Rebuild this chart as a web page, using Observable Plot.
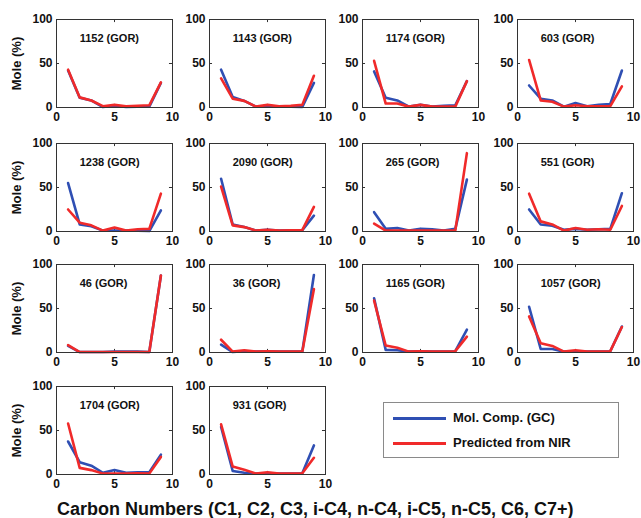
<!DOCTYPE html>
<html>
<head>
<meta charset="utf-8">
<script src="https://cdn.jsdelivr.net/npm/d3@7"></script>
<script src="https://cdn.jsdelivr.net/npm/@observablehq/plot@0.6"></script>
<style>
  html, body { margin: 0; padding: 0; background: #fff; }
  #chart { position: relative; width: 641px; height: 518px; background: #fff; overflow: hidden;
    font-family: "Liberation Sans", Arial, sans-serif; font-weight: bold; color: #111; }
  #chart .panel { position: absolute; }
  #legend { position: absolute; left: 383px; top: 402px; width: 234px; height: 54px;
    border: 1px solid #8a8a8a; background: #fff; }
  #legend .row { position: absolute; left: 9px; height: 16px; display: flex; align-items: center; }
  #legend .sw { width: 53px; height: 3px; margin-right: 7px; }
  #legend .lab { font-size: 13px; line-height: 16px; }
  #xtitle { position: absolute; left: 57px; top: 500px; font-size: 18px; line-height: 18px; white-space: nowrap; }
</style>
</head>
<body>
<div id="chart"></div>
<script>
// ---- data ----
const carbon = [1, 2, 3, 4, 5, 6, 7, 8, 9];
const xTicks = [0, 5, 10];
const yTicks = [0, 50, 100];
const samples = ["1152", "1143", "1174", "603", "1238", "2090", "265", "551", "46", "36", "1165", "1057", "1704", "931"];
const seriesNames = ["Mol. Comp. (GC)", "Predicted from NIR"];

const gc_1152 = [42, 11, 8, 0.5, 2, 0.5, 1, 1, 28];
const nir_1152 = [43, 11.5, 8, 1.5, 3, 1.5, 2, 2.5, 28.5];
const gc_1143 = [43, 12, 7.5, 1, 1, 1, 1, 0.5, 28];
const nir_1143 = [33, 10, 7.5, 1, 3, 1.5, 2, 3, 36];
const gc_1174 = [41, 11, 8, 1, 3, 1, 2, 2.5, 30];
const nir_1174 = [53, 4.5, 4.5, 1, 3, 1, 1, 1, 30];
const gc_603 = [25, 10, 8, 1, 5, 1.5, 3, 4, 42];
const nir_603 = [54, 8, 6.5, 1, 2.5, 1.5, 1.5, 1.5, 24];
const gc_1238 = [55, 8, 6, 1, 1, 1, 1, 0.5, 24];
const nir_1238 = [25, 10, 7, 1, 4.5, 1, 2.5, 3, 43];
const gc_2090 = [60, 8, 5, 1, 2, 1, 1.5, 1.5, 18];
const nir_2090 = [51, 7, 5, 1, 2, 1, 1.5, 1.5, 28];
const gc_265 = [22, 3, 4, 1, 3, 2.5, 1, 3, 59];
const nir_265 = [9, 1, 1, 1, 1, 1, 1, 1, 89];
const gc_551 = [25, 8, 6.5, 2, 3, 2, 2.5, 3, 43.5];
const nir_551 = [43, 11.5, 8, 1, 4, 2, 2.5, 2, 29];
const gc_46 = [7.5, 0.5, 0.5, 0.5, 1, 1, 1, 0.5, 87.5];
const nir_46 = [8.5, 0.5, 0.5, 0.5, 0.5, 0.5, 0.5, 0.5, 87.5];
const gc_36 = [9, 0.5, 1.5, 1, 1.5, 1, 1, 1, 88];
const nir_36 = [14.5, 1, 2.5, 1, 1.5, 1, 1, 1, 72];
const gc_1165 = [61.5, 3, 2.5, 1, 1.5, 1, 1, 1.5, 26];
const nir_1165 = [59, 8, 5.5, 1, 1.5, 1, 1, 1.5, 18];
const gc_1057 = [52, 4, 4, 1, 1, 1, 1, 1.5, 29.5];
const nir_1057 = [41, 10.5, 7.5, 1, 2.5, 1, 1, 1.5, 29];
const gc_1704 = [37.5, 14, 10, 2, 5, 2, 2.5, 2.5, 22.5];
const nir_1704 = [58, 7.5, 5, 1, 1, 1, 1.5, 1, 20];
const gc_931 = [54, 4, 2, 1, 1, 1, 1, 1.5, 33];
const nir_931 = [57, 9, 5.5, 1, 2.5, 1, 1, 1.5, 19];

const gcBySample = {"1152": gc_1152, "1143": gc_1143, "1174": gc_1174, "603": gc_603, "1238": gc_1238, "2090": gc_2090,
  "265": gc_265, "551": gc_551, "46": gc_46, "36": gc_36, "1165": gc_1165, "1057": gc_1057, "1704": gc_1704, "931": gc_931};
const nirBySample = {"1152": nir_1152, "1143": nir_1143, "1174": nir_1174, "603": nir_603, "1238": nir_1238, "2090": nir_2090,
  "265": nir_265, "551": nir_551, "46": nir_46, "36": nir_36, "1165": nir_1165, "1057": nir_1057, "1704": nir_1704, "931": nir_931};

// ---- layout ----
const BLUE = "#2f4fb3";
const RED = "#f02a2a";
const colLefts = [56, 208.5, 362, 517];
const rowTops = [19, 143, 264, 386];
const fw = 116, fh = 88;
const mL = 50, mR = 8, mT = 6, mB = 24;
const font = "'Liberation Sans', Arial, sans-serif";

const chart = document.getElementById("chart");

samples.forEach((s, i) => {
  const col = i % 4, row = Math.floor(i / 4);
  const gcRows = carbon.map((c, k) => ({x: c, y: gcBySample[s][k]}));
  const nirRows = carbon.map((c, k) => ({x: c, y: nirBySample[s][k]}));
  const p = Plot.plot({
    width: mL + fw + mR,
    height: mT + fh + mB,
    marginLeft: mL, marginRight: mR, marginTop: mT, marginBottom: mB,
    style: {fontFamily: font, fontWeight: "bold", fontSize: "12px", color: "#111", background: "transparent", overflow: "visible"},
    x: {domain: [0, 10]},
    y: {domain: [0, 100]},
    marks: [
      Plot.axisX(xTicks, {tickSize: 0, tickPadding: 5, label: null, fontSize: 12}),
      Plot.axisY(yTicks, {tickSize: 0, tickPadding: 4, fontSize: 12,
        label: col === 0 ? "Mole (%)" : null, labelAnchor: "center", labelOffset: 45, labelArrow: "none"}),
      Plot.ruleX(xTicks, {x: d => d, y1: 0, y2: 3.5, stroke: "#333"}),
      Plot.ruleX(xTicks, {x: d => d, y1: 96.5, y2: 100, stroke: "#333"}),
      Plot.ruleY(yTicks, {y: d => d, x1: 0, x2: 0.26, stroke: "#333"}),
      Plot.ruleY(yTicks, {y: d => d, x1: 9.74, x2: 10, stroke: "#333"}),
      Plot.line(gcRows, {x: "x", y: "y", stroke: BLUE, strokeWidth: 2.6}),
      Plot.line(nirRows, {x: "x", y: "y", stroke: RED, strokeWidth: 2.6}),
      Plot.text([s + " (GOR)"], {x: 2, y: 79, text: d => d, textAnchor: "start", fontSize: 11, fontWeight: "bold", fill: "#111"}),
      Plot.frame({stroke: "#333", strokeWidth: 1})
    ]
  });
  p.classList.add("panel");
  p.style.left = (colLefts[col] - mL) + "px";
  p.style.top = (rowTops[row] - mT) + "px";
  chart.appendChild(p);
});

// y label font size tweak
chart.querySelectorAll("g[aria-label='y-axis label'] text").forEach(t => t.setAttribute("font-size", "13"));

// legend
const legend = document.createElement("div");
legend.id = "legend";
[[BLUE, seriesNames[0], 7], [RED, seriesNames[1], 32]].forEach(([c, name, top]) => {
  const r = document.createElement("div");
  r.className = "row";
  r.style.top = top + "px";
  const sw = document.createElement("div");
  sw.className = "sw"; sw.style.background = c;
  const lab = document.createElement("span");
  lab.className = "lab"; lab.textContent = name;
  r.appendChild(sw); r.appendChild(lab);
  legend.appendChild(r);
});
chart.appendChild(legend);

const xt = document.createElement("div");
xt.id = "xtitle";
xt.textContent = "Carbon Numbers (C1, C2, C3, i-C4, n-C4, i-C5, n-C5, C6, C7+)";
chart.appendChild(xt);
</script>
</body>
</html>
